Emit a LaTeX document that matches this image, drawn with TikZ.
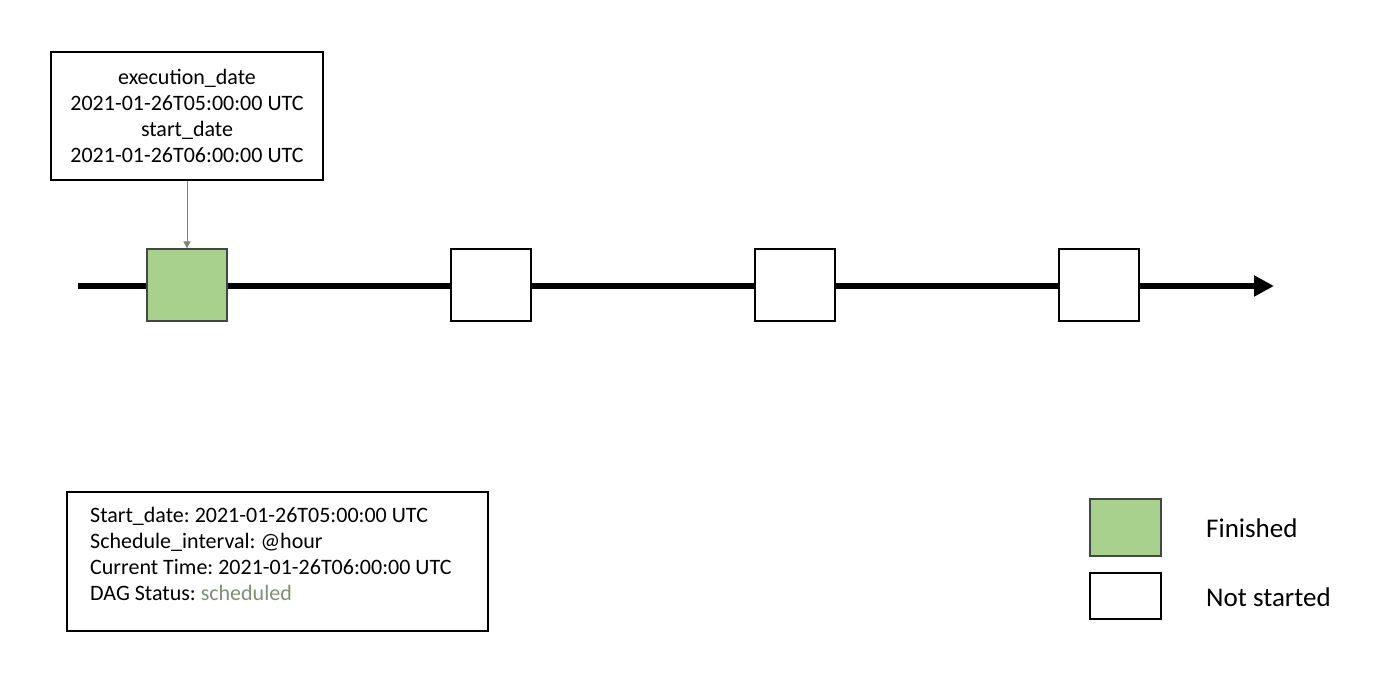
\documentclass[tikz,border=0pt]{standalone}
\usepackage{fontspec}
\setmainfont{Carlito}
\usetikzlibrary{arrows.meta}
\definecolor{done}{RGB}{169,209,142}
\definecolor{stat}{RGB}{125,145,115}
\definecolor{edge}{RGB}{70,70,70}
\tikzset{
  runbox/.style={draw=black, line width=1.2pt, fill=white, minimum width=80pt, minimum height=72pt, inner sep=0pt},
  donebox/.style={runbox, draw=edge, fill=done},
  infobox/.style={draw=black, line width=1.2pt, fill=white, inner sep=0pt},
  txt/.style={font=\fontsize{22}{26}\selectfont\frenchspacing, inner sep=0pt},
  legtxt/.style={font=\fontsize{27}{32}\selectfont, inner sep=0pt, anchor=west},
}
\begin{document}
\begin{tikzpicture}[x=1pt,y=-1pt]
\useasboundingbox (0,0) rectangle (1400,676);
% timeline
\coordinate (tstart) at (78,286);
\coordinate (tend) at (1274,286);
\draw[line width=6pt, -{Triangle[length=20pt,width=20pt]}] (tstart) -- (tend);
% runs
\node[donebox] (r1) at (187,285) {};
\node[runbox] (r2) at (491,285) {};
\node[runbox] (r3) at (795,285) {};
\node[runbox] (r4) at (1099,285) {};
% callout
\node[infobox, minimum width=272pt, minimum height=128pt] (call) at (187,116) {};
\node[txt, align=center] (calltxt) at (187,116) {execution\_date\\2021-01-26T05:00:00 UTC\\start\_date\\2021-01-26T06:00:00 UTC};
\draw[gray, line width=0.8pt, -{Triangle[length=7pt,width=7pt]}] (call.south) -- (r1.north);
% info box
\node[infobox, minimum width=421pt, minimum height=139pt] (info) at (277.5,561.5) {};
\node[txt, align=left, anchor=west] (infotxt) at (90,554) {Start\_date: 2021-01-26T05:00:00 UTC\\Schedule\_interval: @hour\\Current Time: 2021-01-26T06:00:00 UTC\\DAG Status: \textcolor{stat}{scheduled}};
% legend
\node[donebox, minimum width=71pt, minimum height=57pt] (lg1) at (1125.5,527.5) {};
\node[runbox, minimum width=71pt, minimum height=46pt] (lg2) at (1125.5,596) {};
\node[legtxt] (lt1) at (1206,528) {Finished};
\node[legtxt] (lt2) at (1206,597) {Not started};
\end{tikzpicture}
\end{document}
